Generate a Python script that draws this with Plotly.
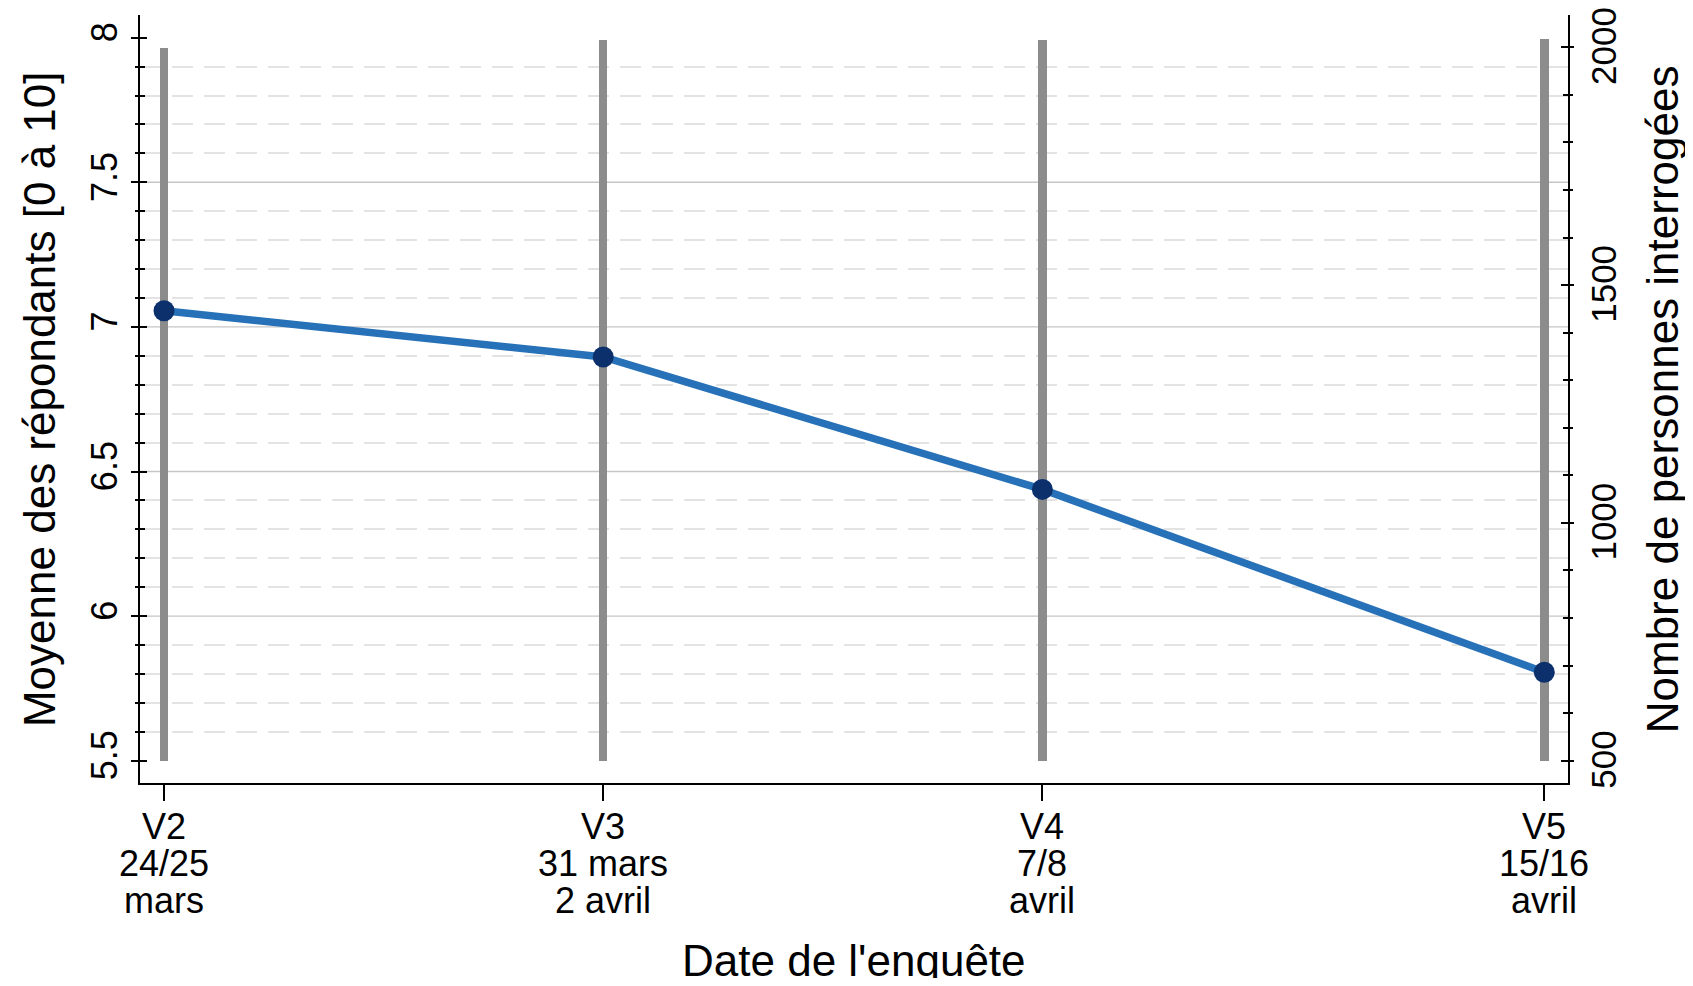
import plotly.graph_objects as go

# ---- data ----
waves = ["V2", "V3", "V4", "V5"]
date_line1 = ["24/25", "31 mars", "7/8", "15/16"]
date_line2 = ["mars", "2 avril", "avril", "avril"]
day = [24, 31, 38, 46]            # day index (mars = 1..31, avril = 32..)
moyenne = [7.056, 6.896, 6.438, 5.806]
effectif = [1998, 2016, 2015, 2018]

left_ticks = [5.5, 6, 6.5, 7, 7.5, 8]
left_ticktext = ["5.5", "6", "6.5", "7", "7.5", "8"]
left_grid = [6, 6.5, 7, 7.5]
right_ticks = [500, 1000, 1500, 2000]
count_base = 500

LEFT_RANGE = [5.4229, 8.0785]
RIGHT_RANGE = [453.1, 2067.9]
X_RANGE = [23.617, 46.378]

# minor positions (axis decoration, not data)
left_minor = [round(5.5 + 0.1 * k, 1) for k in range(1, 25) if k % 5 != 0]
right_minor = [500 + 100 * k for k in range(1, 15) if k % 5 != 0]

FONT = "Liberation Sans, Arial, Helvetica, sans-serif"
TICK_FS = 36
TITLE_FS = 44

fig = go.Figure()

# grey spikes (number of respondents), right axis (base subplot, drawn underneath)
fig.add_trace(go.Bar(
    x=day, y=[n - count_base for n in effectif], base=count_base,
    width=0.135, marker=dict(color="#8c8c8c", line=dict(width=0)),
    yaxis="y", name="Nombre de personnes interrogées", showlegend=False,
))

# mean line, left axis
fig.add_trace(go.Scatter(
    x=day, y=moyenne, yaxis="y2", mode="lines+markers",
    line=dict(color="#2771b8", width=7.5),
    marker=dict(color="#0b306c", size=21),
    name="Moyenne", showlegend=False,
))

# invisible helpers so the inner-tick overlay axes get drawn
fig.add_trace(go.Scatter(x=[day[0]], y=[left_ticks[0]], yaxis="y3", mode="markers",
                         marker=dict(opacity=0), hoverinfo="skip", showlegend=False))
fig.add_trace(go.Scatter(x=[day[0]], y=[right_ticks[0]], yaxis="y4", mode="markers",
                         marker=dict(opacity=0), hoverinfo="skip", showlegend=False))

fig.update_layout(
    width=1677, height=970,
    margin=dict(l=132, r=117.3, t=7, b=195, autoexpand=False),
    paper_bgcolor="white", plot_bgcolor="white",
    font=dict(family=FONT, size=TICK_FS, color="black"),
    bargap=0,
    xaxis=dict(
        range=X_RANGE, tickmode="array", tickvals=day, ticktext=waves,
        showticklabels=False,
        ticks="outside", ticklen=16, tickwidth=2, tickcolor="black",
        showline=True, linecolor="black", linewidth=2, showgrid=False, zeroline=False,
    ),
    # right axis: counts
    yaxis=dict(
        side="right", range=RIGHT_RANGE, tickmode="array", tickvals=right_ticks,
        ticks="outside", ticklen=4, tickwidth=2, tickcolor="black", tickangle=-90,
        ticklabelstandoff=0, ticklabeloverflow="allow", ticklabelshift=4,
        showline=True, linecolor="black", linewidth=2, showgrid=False, zeroline=False,
        minor=dict(tickmode="array", tickvals=right_minor, ticks="outside", ticklen=3,
                   tickwidth=2, tickcolor="black", showgrid=False),
        tickfont=dict(size=35, family=FONT),
    ),
    # left axis: mean score
    yaxis2=dict(
        side="left", overlaying="y", anchor="x",
        range=LEFT_RANGE, tickmode="array", tickvals=left_ticks, ticktext=left_ticktext,
        ticks="outside", ticklen=7, tickwidth=2, tickcolor="black", tickangle=-90,
        ticklabeloverflow="allow",
        showline=True, linecolor="black", linewidth=2, showgrid=False, zeroline=False,
        minor=dict(tickmode="array", tickvals=left_minor, ticks="outside", ticklen=3,
                   tickwidth=2, tickcolor="black", showgrid=True, gridcolor="#e3e3e3",
                   gridwidth=2, griddash="21px,11px"),
        tickfont=dict(size=TICK_FS, family=FONT),
    ),
    # inner half of the crossing ticks (left)
    yaxis3=dict(
        side="left", overlaying="y", anchor="x", range=LEFT_RANGE,
        tickmode="array", tickvals=left_ticks, ticks="inside", ticklen=7, tickwidth=2,
        tickcolor="black", showticklabels=False, showline=False, showgrid=False,
        zeroline=False,
        minor=dict(tickmode="array", tickvals=left_minor, ticks="inside", ticklen=5,
                   tickwidth=2, tickcolor="black", showgrid=False),
    ),
    # inner half of the crossing ticks (right)
    yaxis4=dict(
        side="right", overlaying="y", anchor="x", range=RIGHT_RANGE,
        tickmode="array", tickvals=right_ticks, ticks="inside", ticklen=7, tickwidth=2,
        tickcolor="black", showticklabels=False, showline=False, showgrid=False,
        zeroline=False,
        minor=dict(tickmode="array", tickvals=right_minor, ticks="inside", ticklen=5,
                   tickwidth=2, tickcolor="black", showgrid=False),
    ),
)

# solid major gridlines on the left axis
for v in left_grid:
    fig.add_shape(type="line", xref="paper", x0=0, x1=1, yref="y2", y0=v, y1=v,
                  line=dict(color="#c6c6c6", width=1.4), layer="below")

# x tick labels (three lines each, tight line spacing)
for lines_, shift in ((waves, -43), (date_line1, -80), (date_line2, -117)):
    for d, t in zip(day, lines_):
        fig.add_annotation(text=t, x=d, xref="x", y=0, yref="paper", yshift=shift,
                           xanchor="center", yanchor="middle", showarrow=False,
                           font=dict(size=TICK_FS, family=FONT, color="black"))

# axis titles
fig.add_annotation(text="Moyenne des répondants [0 à 10]", xref="paper", yref="paper",
                   x=-0.0707, y=0.5, xanchor="center", yanchor="middle", textangle=-90,
                   showarrow=False, font=dict(size=TITLE_FS, family=FONT, color="black"))
fig.add_annotation(text="Nombre de personnes interrogées", xref="paper", yref="paper",
                   x=1.066, y=0.5, xanchor="center", yanchor="middle", textangle=-90,
                   showarrow=False, font=dict(size=TITLE_FS, family=FONT, color="black"))
fig.add_annotation(text="Date de l'enquête", xref="paper", yref="paper",
                   x=0.5, y=-0.2305, xanchor="center", yanchor="middle",
                   showarrow=False, font=dict(size=TITLE_FS, family=FONT, color="black"))

fig.write_html("out.html")
